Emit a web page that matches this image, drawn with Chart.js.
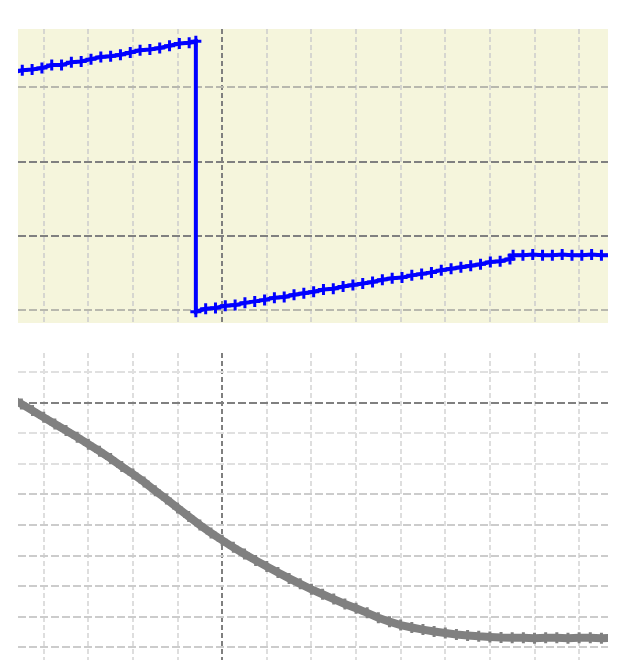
<!DOCTYPE html>
<html>
<head>
<meta charset="utf-8">
<script src="https://cdn.jsdelivr.net/npm/chart.js@4.4.1/dist/chart.umd.min.js"></script>
<style>
html, body { margin: 0; padding: 0; background: #fff; }
body { width: 636px; height: 660px; position: relative; overflow: hidden; }
canvas { position: absolute; }
#topScope { left: 18px; top: 29px; }
#bottomScope { left: 18px; top: 353px; }
</style>
</head>
<body>
<canvas id="topScope" width="590" height="294"></canvas>
<canvas id="bottomScope" width="590" height="307"></canvas>
<script>
// time axis in divisions, 0 = trigger line
const timeDivs = [-4, -3, -2, -1, 0, 1, 2, 3, 4, 5, 6, 7, 8];
const topDivs = [-1, 0, 1, 2];
const bottomDivs = [1, 0, -1, -2, -3, -4, -5, -6, -7, -8];

// channel 1 (blue)
const blueTime = [
    -4.70, -4.48, -4.26, -4.04, -3.82, -3.60, -3.38, -3.16, -2.94, -2.72,
    -2.50, -2.28, -2.06, -1.84, -1.62, -1.40, -1.18, -0.96, -0.74, -0.59,
    -0.59, -0.37, -0.15, 0.07, 0.29, 0.51, 0.73, 0.95, 1.17, 1.39,
    1.61, 1.83, 2.05, 2.27, 2.49, 2.71, 2.93, 3.15, 3.37, 3.59,
    3.81, 4.03, 4.25, 4.47, 4.69, 4.91, 5.13, 5.35, 5.57, 5.79,
    6.01, 6.23, 6.45, 6.52, 6.74, 6.96, 7.18, 7.40, 7.62, 7.84,
    8.06, 8.28, 8.50, 8.72
];
const blueLevel = [
    2.20, 2.23, 2.24, 2.26, 2.30, 2.30, 2.34, 2.35, 2.38, 2.41,
    2.42, 2.44, 2.47, 2.50, 2.51, 2.53, 2.56, 2.59, 2.60, 2.62,
    -1.02, -0.98, -0.97, -0.94, -0.93, -0.90, -0.88, -0.86, -0.83, -0.82,
    -0.79, -0.77, -0.75, -0.72, -0.71, -0.68, -0.66, -0.64, -0.62, -0.59,
    -0.57, -0.56, -0.53, -0.51, -0.49, -0.46, -0.44, -0.42, -0.40, -0.38,
    -0.35, -0.34, -0.31, -0.26, -0.26, -0.25, -0.26, -0.26, -0.25, -0.26,
    -0.26, -0.25, -0.26, -0.26
];

// channel 2 (grey)
const greyTime = [
    -4.75, -4.50, -4.25, -4.00, -3.75, -3.50, -3.25, -3.00, -2.75, -2.50,
    -2.25, -2.00, -1.75, -1.50, -1.25, -1.00, -0.75, -0.50, -0.25, 0.00,
    0.25, 0.50, 0.75, 1.00, 1.25, 1.50, 1.75, 2.00, 2.25, 2.50,
    2.75, 3.00, 3.25, 3.50, 3.75, 4.00, 4.25, 4.50, 4.75, 5.00,
    5.25, 5.50, 5.75, 6.00, 6.25, 6.50, 6.75, 7.00, 7.25, 7.50,
    7.75, 8.00, 8.25, 8.50, 8.75
];
const greyLevel = [
    0.15, -0.03, -0.25, -0.47, -0.69, -0.90, -1.12, -1.35, -1.58, -1.82,
    -2.08, -2.33, -2.59, -2.88, -3.15, -3.44, -3.72, -4.00, -4.26, -4.50,
    -4.73, -4.95, -5.16, -5.36, -5.56, -5.75, -5.93, -6.11, -6.27, -6.43,
    -6.59, -6.73, -6.88, -7.04, -7.17, -7.28, -7.36, -7.43, -7.49, -7.54,
    -7.59, -7.62, -7.65, -7.67, -7.69, -7.70, -7.70, -7.71, -7.70, -7.70,
    -7.71, -7.70, -7.70, -7.71, -7.70
];

function toPoints(xs, ys) {
    return xs.map((x, i) => ({ x: x, y: ys[i] }));
}

const panelFill = {
    id: 'panelFill',
    beforeDraw(chart, args, opts) {
        if (!opts.color) return;
        const a = chart.chartArea;
        const ctx = chart.ctx;
        ctx.save();
        ctx.fillStyle = opts.color;
        ctx.fillRect(a.left, a.top, a.right - a.left, a.bottom - a.top);
        ctx.restore();
    }
};

function scopeChart(canvasId, cfg) {
    const ctx = document.getElementById(canvasId).getContext('2d');
    return new Chart(ctx, {
        type: 'line',
        data: {
            datasets: [{
                data: toPoints(cfg.time, cfg.level),
                borderColor: cfg.color,
                backgroundColor: cfg.color,
                borderWidth: cfg.lineWidth,
                pointStyle: 'cross',
                pointRadius: cfg.markSize,
                pointBorderWidth: 3,
                pointBorderColor: cfg.color,
                tension: 0,
                fill: false,
                clip: 0
            }]
        },
        options: {
            responsive: false,
            animation: false,
            devicePixelRatio: 1,
            layout: { padding: 0, autoPadding: false },
            plugins: {
                legend: { display: false },
                tooltip: { enabled: false },
                panelFill: { color: cfg.bg }
            },
            scales: {
                x: {
                    type: 'linear',
                    min: -4.576,
                    max: 8.647,
                    afterBuildTicks: s => { s.ticks = timeDivs.map(v => ({ value: v })); },
                    afterFit: s => { s.height = 0; },
                    ticks: { display: false },
                    border: { display: false, dash: [5, 3] },
                    grid: {
                        drawTicks: false,
                        lineWidth: 2,
                        color: c => c.tick && c.tick.value === 0 ? '#7f7f7f' : cfg.vLight
                    }
                },
                y: {
                    type: 'linear',
                    min: cfg.yMin,
                    max: cfg.yMax,
                    afterBuildTicks: s => { s.ticks = cfg.divs.map(v => ({ value: v })); },
                    afterFit: s => { s.width = 0; },
                    ticks: { display: false },
                    border: { display: false, dash: [8, 3] },
                    grid: {
                        drawTicks: false,
                        lineWidth: 2,
                        color: c => cfg.hColor(c.tick ? c.tick.value : 99)
                    }
                }
            }
        },
        plugins: [panelFill]
    });
}

scopeChart('topScope', {
    time: blueTime, level: blueLevel, color: '#0000ff',
    lineWidth: 4, markSize: 5.5, bg: '#f5f5dc',
    yMin: -1.171, yMax: 2.786, divs: topDivs,
    vLight: '#d6d6d0',
    hColor: v => (v === 0 || v === 1) ? '#808080' : '#b8b8ae'
});

scopeChart('bottomScope', {
    time: greyTime, level: greyLevel, color: '#808080',
    lineWidth: 8, markSize: 5.5, bg: null,
    yMin: -8.426, yMax: 1.639, divs: bottomDivs,
    vLight: '#dedede',
    hColor: v => v === 0 ? '#808080' : (v >= -2 ? '#e0e0e0' : '#cccccc')
});
</script>
</body>
</html>
